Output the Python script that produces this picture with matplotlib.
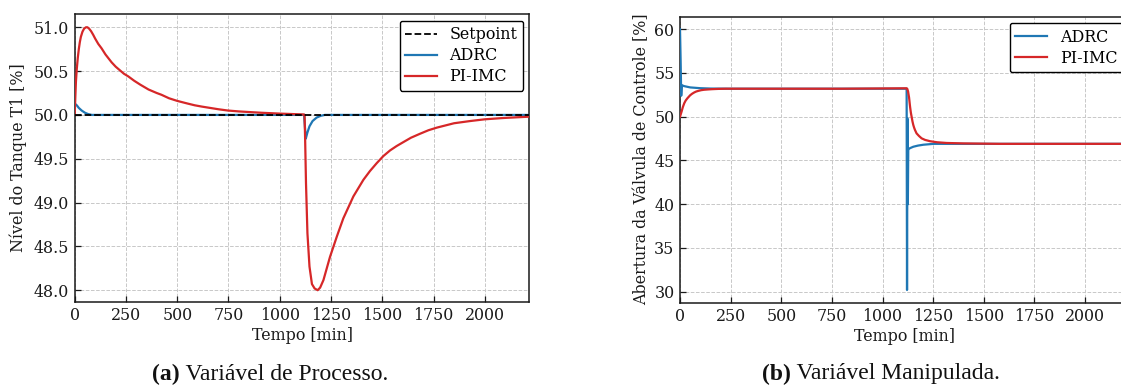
import matplotlib
matplotlib.use("Agg")
import matplotlib.pyplot as plt

# ---------------- data ----------------
# (a) Process variable: tank T1 level [%]
t_sp = [0, 2217]
y_sp = [50.0, 50.0]

t_adrc_pv = [0, 10, 20, 34, 50, 65, 83, 120, 400, 800, 1119, 1120, 1127,
             1135, 1145, 1160, 1180, 1200, 1220, 1500, 2217]
y_adrc_pv = [50.13, 50.11, 50.08, 50.05, 50.025, 50.01, 50.0, 50.0, 50.0,
             50.0, 50.0, 49.95, 49.73, 49.80, 49.87, 49.93, 49.97, 49.99,
             50.0, 50.0, 50.0]

t_pi_pv = [0, 3, 6, 10, 15, 20, 25, 30, 38, 46, 55, 62, 70, 80, 90, 100,
           115, 131, 150, 165, 180, 200, 220, 240, 261, 290, 320, 360, 400,
           423, 460, 500, 550, 585, 620, 660, 700, 747, 800, 850, 909, 1000,
           1060, 1119, 1121, 1124, 1128, 1135, 1145, 1157, 1170, 1185, 1197,
           1213, 1245, 1278, 1310, 1359, 1408, 1440, 1473, 1505, 1538, 1570,
           1603, 1640, 1684, 1725, 1766, 1850, 1928, 2000, 2091, 2217]
y_pi_pv = [50.0, 50.2, 50.38, 50.52, 50.65, 50.75, 50.83, 50.89, 50.95,
           50.985, 51.0, 51.0, 50.985, 50.955, 50.915, 50.87, 50.81, 50.76,
           50.69, 50.645, 50.60, 50.55, 50.51, 50.47, 50.44, 50.39, 50.345,
           50.29, 50.25, 50.23, 50.19, 50.16, 50.13, 50.11, 50.095, 50.08,
           50.065, 50.05, 50.04, 50.033, 50.025, 50.015, 50.01, 50.005, 50.0,
           49.7, 49.22, 48.65, 48.27, 48.07, 48.02, 48.0, 48.03, 48.115,
           48.38, 48.61, 48.82, 49.07, 49.26, 49.36, 49.45, 49.53, 49.595,
           49.645, 49.69, 49.74, 49.785, 49.825, 49.855, 49.905, 49.93,
           49.95, 49.965, 49.98]

# (b) Manipulated variable: control valve opening [%]
t_adrc_mv = [0, 3, 6, 9, 20, 50, 100, 150, 250, 600, 1119, 1121, 1123,
             1125, 1127, 1131, 1140, 1152, 1175, 1202, 1252, 1400, 1800, 2217]
y_adrc_mv = [60.0, 56.5, 52.4, 53.6, 53.5, 53.35, 53.26, 53.22, 53.2, 53.2,
             53.2, 30.2, 49.8, 40.0, 46.2, 46.35, 46.45, 46.57, 46.7, 46.8,
             46.9, 46.9, 46.9, 46.9]

t_pi_mv = [0, 4, 8, 14, 21, 28, 37, 50, 60, 70, 80, 90, 104, 118, 140, 160,
           190, 226, 300, 500, 800, 1119, 1122, 1126, 1131, 1136, 1140, 1144,
           1148, 1152, 1156, 1160, 1168, 1180, 1193, 1210, 1235, 1270, 1317,
           1400, 1580, 2217]
y_pi_mv = [50.0, 50.3, 50.6, 51.1, 51.54, 51.85, 52.12, 52.45, 52.63, 52.77,
           52.88, 52.95, 53.03, 53.08, 53.12, 53.15, 53.18, 53.2, 53.2, 53.2,
           53.2, 53.25, 53.2, 52.9, 52.2, 51.14, 50.45, 49.95, 49.45, 49.05,
           48.75, 48.5, 48.1, 47.8, 47.53, 47.35, 47.2, 47.08, 47.0, 46.95,
           46.9, 46.9]

x_ticks = [0, 250, 500, 750, 1000, 1250, 1500, 1750, 2000]
yticks_a = [48.0, 48.5, 49.0, 49.5, 50.0, 50.5, 51.0]
yticks_b = [30, 35, 40, 45, 50, 55, 60]

# ---------------- style ----------------
plt.rcParams['font.family'] = ['DejaVu Serif']
FS = 11.4
BLUE = '#1f77b4'
RED = '#d62728'
INK = '#1a1a1a'

W, H = 1121, 385
fig = plt.figure(figsize=(W / 100, H / 100), dpi=100)


def style_axes(ax):
    ax.grid(True, linestyle='--', color='#c8c8c8', linewidth=0.7)
    ax.set_axisbelow(True)
    ax.tick_params(direction='in', length=4, width=0.9, labelsize=FS,
                   colors=INK, labelcolor=INK, pad=4)
    for s in ax.spines.values():
        s.set_linewidth(1.1)
        s.set_color(INK)
    ax.set_xticks(x_ticks)
    ax.set_xlim(0, 2217)
    ax.set_xlabel('Tempo [min]', fontsize=FS, labelpad=2, color=INK)


def make_legend(ax):
    leg = ax.legend(loc='upper right', fontsize=FS, frameon=True, fancybox=True,
                    framealpha=1, edgecolor='black', borderpad=0.35,
                    handlelength=2.0, labelspacing=0.25, borderaxespad=0.4)
    leg.get_frame().set_linewidth(1.0)
    leg.get_frame().set_boxstyle('round,pad=0,rounding_size=0.15')
    return leg


# (a)
ax1 = fig.add_axes([74.7 / W, 1 - 301.7 / H, (529.3 - 74.7) / W, (301.7 - 14.3) / H])
style_axes(ax1)
ax1.plot(t_sp, y_sp, '--', color='black', lw=1.3, label='Setpoint', zorder=5)
ax1.plot(t_adrc_pv, y_adrc_pv, color=BLUE, lw=1.6, label='ADRC', zorder=3)
ax1.plot(t_pi_pv, y_pi_pv, color=RED, lw=1.6, label='PI-IMC', zorder=4)
ax1.set_ylim(47.869, 51.148)
ax1.set_yticks(yticks_a)
ax1.set_yticklabels([f'{v:.1f}' for v in yticks_a])
ax1.set_ylabel('Nível do Tanque T1 [%]', fontsize=FS, labelpad=5, color=INK)
make_legend(ax1)

# (b)
ax2 = fig.add_axes([680 / W, 1 - 302.5 / H, 449 / W, (302.5 - 16.7) / H])
style_axes(ax2)
ax2.plot(t_adrc_mv, y_adrc_mv, color=BLUE, lw=1.6, label='ADRC', zorder=3)
ax2.plot(t_pi_mv, y_pi_mv, color=RED, lw=1.6, label='PI-IMC', zorder=4)
ax2.set_ylim(28.77, 61.43)
ax2.set_yticks(yticks_b)
ax2.set_ylabel('Abertura da Válvula de Controle [%]', fontsize=FS, labelpad=3,
               color=INK)
make_legend(ax2)

# captions
cap_fam = ['Liberation Serif', 'DejaVu Serif']
CFS = 17


def caption(xc, bold, rest):
    t1 = fig.text(0, 1 - 374 / H, bold, fontsize=CFS, fontweight='bold',
                  family=cap_fam, ha='left', va='center', color='#111111')
    t2 = fig.text(0, 1 - 374 / H, ' ' + rest, fontsize=CFS, family=cap_fam,
                  ha='left', va='center', color='#111111')
    fig.canvas.draw()
    r = fig.canvas.get_renderer()
    w1 = t1.get_window_extent(r).width
    w2 = t2.get_window_extent(r).width
    x0 = xc - (w1 + w2) / 2
    t1.set_x(x0 / W)
    t2.set_x((x0 + w1) / W)


caption(270, '(a)', 'Variável de Processo.')
caption(881, '(b)', 'Variável Manipulada.')

fig.savefig('out.png', dpi=100)
